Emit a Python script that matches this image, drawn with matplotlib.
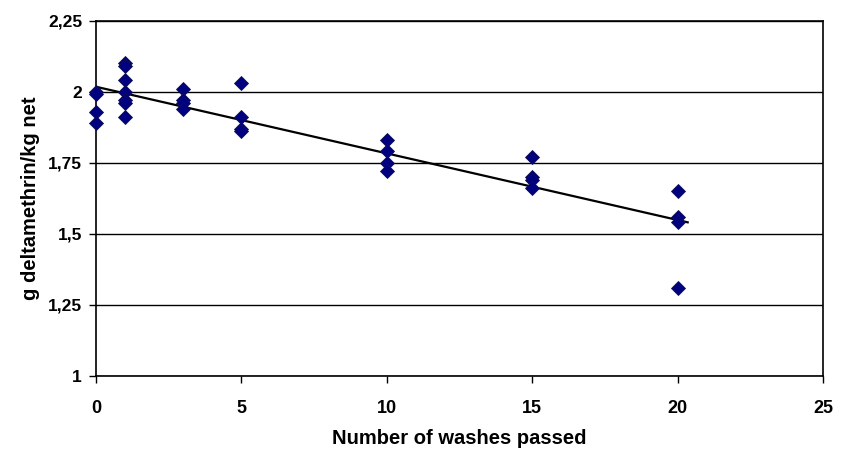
import numpy as np
import matplotlib
matplotlib.use("Agg")
import matplotlib.pyplot as plt

# washes passed and measured concentration (g deltamethrin / kg net)
washes = [0, 0, 0, 0,
          1, 1, 1, 1, 1, 1, 1,
          3, 3, 3, 3,
          5, 5, 5, 5,
          10, 10, 10, 10,
          15, 15, 15, 15,
          20, 20, 20, 20]
conc = [2.00, 1.99, 1.93, 1.89,
        2.10, 2.09, 2.04, 2.00, 1.97, 1.96, 1.91,
        2.01, 1.97, 1.96, 1.94,
        2.03, 1.91, 1.87, 1.86,
        1.83, 1.79, 1.75, 1.72,
        1.77, 1.70, 1.69, 1.66,
        1.65, 1.56, 1.54, 1.31]

x_ticks = [0, 5, 10, 15, 20, 25]
y_ticks = [1, 1.25, 1.5, 1.75, 2, 2.25]
y_labels = ["1", "1,25", "1,5", "1,75", "2", "2,25"]

plt.rcParams["font.family"] = ["Liberation Sans", "DejaVu Sans"]

fig = plt.figure(figsize=(8.44, 4.61), dpi=100)
ax = fig.add_axes([0.1137, 0.1844, 0.8613, 0.7711])

ax.set_xlim(0, 25)
ax.set_ylim(1, 2.25)
ax.set_yticks(y_ticks)
ax.set_yticklabels(y_labels, fontsize=12.5, fontweight="bold")
ax.set_xticks(x_ticks)
ax.set_xticklabels([str(t) for t in x_ticks], fontsize=13, fontweight="bold")
ax.tick_params(direction="out", length=5, width=1, color="black", pad=5)
ax.tick_params(axis="x", pad=12)

ax.grid(True, axis="y", color="black", linewidth=1.0)
ax.set_axisbelow(True)
for s in ax.spines.values():
    s.set_linewidth(1.2)
    s.set_color("black")

# linear trendline
k, b = np.polyfit(washes, conc, 1)
xt = np.array([0, max(washes) + 0.35])
ax.plot(xt, k * xt + b, color="black", linewidth=1.6, zorder=2)

ax.plot(washes, conc, linestyle="none", marker="D", markersize=7.6,
        markerfacecolor="#000080", markeredgecolor="#101050",
        markeredgewidth=0.6, zorder=3, clip_on=False)

ax.set_xlabel("Number of washes passed", fontsize=14.5, fontweight="bold",
              labelpad=9)
ax.set_ylabel("g deltamethrin/kg net", fontsize=14.5, fontweight="bold",
              labelpad=6)

fig.savefig("out.png", dpi=100, facecolor="white")
